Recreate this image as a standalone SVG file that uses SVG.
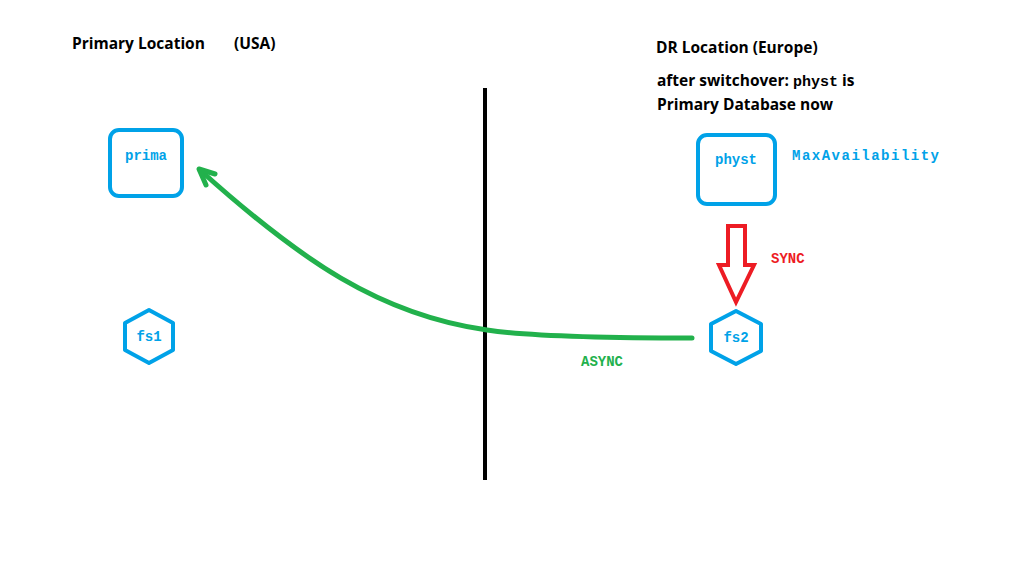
<svg xmlns="http://www.w3.org/2000/svg" width="1031" height="561" viewBox="0 0 1031 561">
<style>
.h{font-family:"Open Sans","Liberation Sans",sans-serif;font-weight:bold;font-size:15.5px;fill:#000}
.m{font-family:"Liberation Mono",monospace;font-weight:bold;font-size:14px}
.b{fill:#00a2e8}
.node{fill:none;stroke:#00a2e8;stroke-width:4;stroke-linejoin:round}
</style>
<rect width="1031" height="561" fill="#fff"/>
<text class="h" x="72" y="49">Primary Location</text>
<text class="h" x="234" y="49">(USA)</text>
<text class="h" x="656" y="53">DR Location (Europe)</text>
<text class="h" x="657" y="86">after switchover: <tspan font-family="Liberation Mono, monospace" font-size="15">physt</tspan> is</text>
<text class="h" x="657" y="110">Primary Database now</text>
<line x1="485" y1="88" x2="485" y2="480" stroke="#000" stroke-width="4"/>
<g id="prima"><rect class="node" x="110" y="130" width="72" height="66" rx="9"/><text class="m b" x="146" y="160" text-anchor="middle">prima</text></g>
<g id="physt"><rect class="node" x="698" y="135" width="77" height="69" rx="9"/><text class="m b" x="736" y="164" text-anchor="middle">physt</text></g>
<text class="m b" x="792" y="160" letter-spacing="1.5">MaxAvailability</text>
<g id="fs1"><polygon class="node" points="149,310 173,323 173,350 149,363 125,350 125,323"/><text class="m b" x="149" y="341" text-anchor="middle">fs1</text></g>
<g id="fs2"><polygon class="node" points="736,311 761,324 761,351 736,364 711,351 711,324"/><text class="m b" x="736" y="342" text-anchor="middle">fs2</text></g>
<g id="connectors">
<polygon points="728,226 745,226 745,265 754,265 736,302 719,265 728,265" fill="none" stroke="#ed1c24" stroke-width="4" stroke-linejoin="miter"/>
<path d="M692,338 C600,338 520,335 487,330 C380,315 300,260 200,170" fill="none" stroke="#22b14c" stroke-width="5" stroke-linecap="round"/>
<path d="M215,174 L199,169 L206,185" fill="none" stroke="#22b14c" stroke-width="5" stroke-linecap="round" stroke-linejoin="round"/>
</g>
<text class="m" x="771" y="263" fill="#ed1c24">SYNC</text>
<text class="m" x="581" y="366" fill="#22b14c">ASYNC</text>
</svg>
